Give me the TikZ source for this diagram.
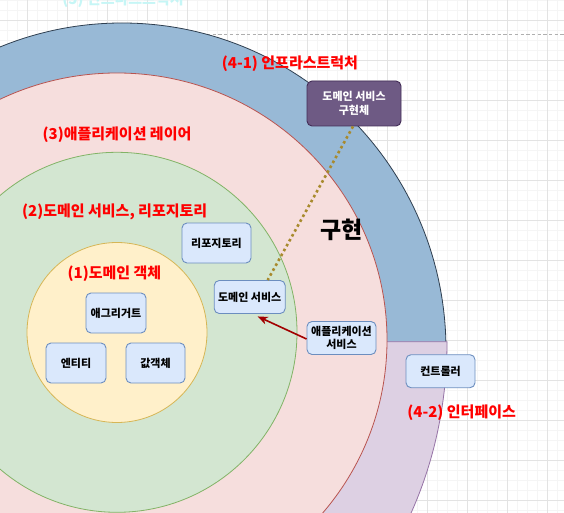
\documentclass[tikz,border=0pt]{standalone}
\usepackage{fontspec}
\setmainfont{Noto Sans CJK KR}
\usetikzlibrary{arrows.meta}
\definecolor{bluefill}{HTML}{98B9D6}
\definecolor{blueline}{HTML}{2F3F50}
\definecolor{pinkfill}{HTML}{F6DEDD}
\definecolor{pinkline}{HTML}{B85450}
\definecolor{greenfill}{HTML}{D3E6D1}
\definecolor{greenline}{HTML}{82B366}
\definecolor{yellowfill}{HTML}{FFF0CA}
\definecolor{yellowline}{HTML}{D6B656}
\definecolor{purplefill}{HTML}{DDD0E3}
\definecolor{purpleline}{HTML}{9673A6}
\definecolor{boxfill}{HTML}{DAE8FC}
\definecolor{boxline}{HTML}{6C8EBF}
\definecolor{implfill}{HTML}{6E5A84}
\definecolor{implline}{HTML}{432D57}
\definecolor{titlered}{HTML}{FF0000}
\definecolor{arrowred}{HTML}{A20000}
\definecolor{dotcol}{HTML}{A88A2D}
\definecolor{ghostcyan}{HTML}{C6F6F6}
\definecolor{minorgridcol}{HTML}{F5F5F5}
\definecolor{majorgridcol}{HTML}{E3E3E3}
\definecolor{dashcol}{HTML}{AFAFAF}
\begin{document}
\begin{tikzpicture}[x=1pt,y=-1pt,
  minorgrid/.style={draw=minorgridcol, line width=0.8pt},
  majorgrid/.style={draw=majorgridcol, line width=0.9pt},
  box/.style={draw=boxline, fill=boxfill, rounded corners=5pt, line width=0.9pt,
    inner sep=0pt, align=center, font=\fontsize{11}{13.5}\selectfont\bfseries},
  implbox/.style={draw=implline, fill=implfill, rounded corners=5pt, line width=0.9pt,
    inner sep=0pt, align=center, text=white, font=\fontsize{11}{13.5}\selectfont\bfseries},
  title/.style={text=titlered, inner sep=0pt, font=\fontsize{15}{18}\selectfont\bfseries},
  layer/.style={line width=0.8pt},
  dotline/.style={draw=dotcol, line width=2.6pt, dash pattern=on 2.6pt off 3pt},
  redarrow/.style={draw=arrowred, line width=1.6pt, -{Stealth[length=10pt,width=8pt,inset=3pt]}}
]
\useasboundingbox (0,0) rectangle (564,513);
\clip (0,0) rectangle (564,513);
\fill[white] (0,0) rectangle (564,513);
% grid
\foreach \i in {0,...,56} \draw[minorgrid] ({7.3+10*\i},0) -- ({7.3+10*\i},513);
\foreach \i in {0,...,51} \draw[minorgrid] (0,{0.7+10*\i}) -- (564,{0.7+10*\i});
\foreach \i in {0,...,13} \draw[majorgrid] ({27.3+40*\i},0) -- ({27.3+40*\i},513);
\foreach \i in {0,...,12} \draw[majorgrid] (0,{20.7+40*\i}) -- (564,{20.7+40*\i});
% dashed guide line
\draw[dashcol, line width=0.8pt, dash pattern=on 3.3pt off 2.4pt] (150,34) -- (564,34);
% ghost text at top
\node[text=ghostcyan, inner sep=0pt, font=\fontsize{15}{18}\selectfont\bfseries] (ghost) at (123,-0.5) {(5) 인프라스트럭처};
% layers
\filldraw[layer, fill=bluefill, draw=blueline] (122,350) ellipse [x radius=324pt, y radius=327pt];
\filldraw[layer, fill=purplefill, draw=purpleline] (130,341.7) -- (447,341.7)
   arc[start angle=0, end angle=-90, x radius=317pt, y radius=370pt] -- cycle;
\filldraw[layer, fill=pinkfill, draw=pinkline] (117,340) ellipse [x radius=270pt, y radius=267pt];
\filldraw[layer, fill=greenfill, draw=greenline] (117,332.3) circle [radius=180pt];
\filldraw[layer, fill=yellowfill, draw=yellowline] (117,332.5) circle [radius=90pt];
% titles
\node[title] (t41) at (290,63.3) {(4-1) 인프라스트럭처};
\node[title] (t3) at (117,135) {(3)애플리케이션 레이어};
\node[title] (t2) at (114.7,211.7) {(2)도메인 서비스, 리포지토리};
\node[title] (t1) at (114.5,273.3) {(1)도메인 객체};
\node[title] (t42) at (461.7,412.3) {(4-2) 인터페이스};
\node[inner sep=0pt, font=\fontsize{23}{26}\selectfont\bfseries] (impltxt) at (341.3,229.5) {구현};
% boxes
\node[implbox, minimum width=94pt, minimum height=45pt] (impl) at (354,103.5) {도메인 서비스\\구현체};
\node[box, minimum width=69pt, minimum height=40pt] (repo) at (216.5,243) {리포지토리};
\node[box, minimum width=71pt, minimum height=33pt] (domsvc) at (249.7,297) {도메인 서비스};
\node[box, minimum width=60pt, minimum height=40pt] (agg) at (116,313) {애그리거트};
\node[box, minimum width=60pt, minimum height=40pt] (ent) at (76,363) {엔티티};
\node[box, minimum width=59pt, minimum height=40pt] (vo) at (155.5,363) {값객체};
\node[box, minimum width=69pt, minimum height=33pt] (appsvc) at (341.5,338) {애플리케이션\\서비스};
\node[box, minimum width=69pt, minimum height=33pt] (ctrl) at (440.5,371.2) {컨트롤러};
% connectors
\draw[dotline] ([xshift=-1pt]impl.south) -- ([xshift=18pt]domsvc.north);
\draw[redarrow] ([yshift=-1pt]appsvc.west) -- ([xshift=8pt,yshift=-2.5pt]domsvc.south);
\end{tikzpicture}
\end{document}
